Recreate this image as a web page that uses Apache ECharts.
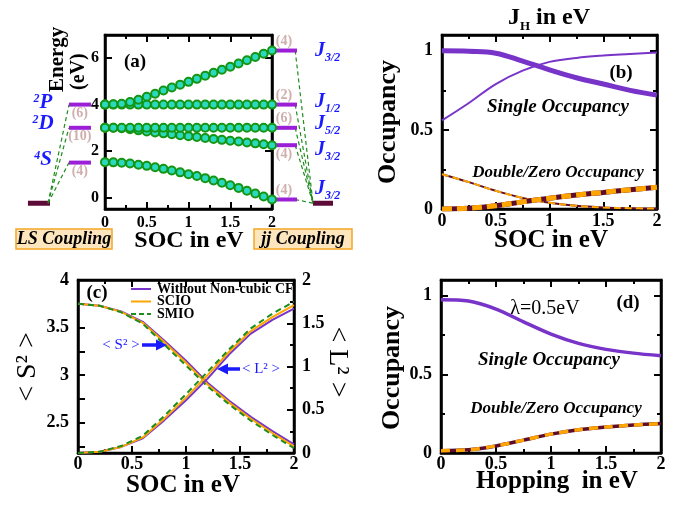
<!DOCTYPE html>
<html><head><meta charset="utf-8">
<script src="https://cdn.jsdelivr.net/npm/echarts@6/dist/echarts.min.js"></script>
<style>html,body{margin:0;padding:0;background:#fff}#c{width:689px;height:509px}</style>
</head><body><div id="c"></div>
<script>
const SERIF = "'Liberation Serif','Times New Roman',serif";

// ---------- Panel (a): energy levels vs SOC ----------
const xA = [0,0.1,0.2,0.3,0.4,0.5,0.6,0.7,0.8,0.9,1.0,1.1,1.2,1.3,1.4,1.5,1.6,1.7,1.8,1.9,2.0];
const aJ32top = [4.00,4.01,4.04,4.11,4.21,4.34,4.47,4.61,4.74,4.86,4.98,5.11,5.24,5.37,5.50,5.63,5.77,5.91,6.05,6.19,6.33];
const aJ12    = [4.00,4.00,4.00,4.00,4.00,4.00,4.00,4.00,4.00,4.00,4.00,4.00,4.00,4.00,4.00,4.00,4.00,4.00,4.00,4.00,4.00];
const aJ52    = [3.00,3.00,3.00,3.00,3.00,3.00,3.00,3.00,3.00,3.00,3.00,3.00,3.00,3.00,3.00,3.00,3.00,3.00,3.00,3.00,3.00];
const aJ32mid = [3.00,3.00,2.98,2.94,2.89,2.84,2.80,2.76,2.72,2.68,2.64,2.60,2.56,2.52,2.48,2.44,2.41,2.37,2.33,2.29,2.25];
const aJ32low = [1.52,1.51,1.49,1.46,1.41,1.36,1.30,1.23,1.16,1.08,1.00,0.92,0.83,0.73,0.63,0.52,0.41,0.29,0.17,0.04,-0.09];
const aYTicks = [0,2,4,6];
const lsLevels = [4.0, 3.0, 1.5];
const lsDeg = ['(6)','(10)','(4)'];
const groundLevel = -0.25;
const jjDeg = ['(4)','(2)','(6)','(4)','(4)'];
const jjDegPos = ['top','top','top','bottom','top'];

// ---------- Panel (b): occupancy vs SOC ----------
const xB = [0,0.25,0.5,0.75,1.0,1.25,1.5,1.75,2.0];
const bSingleThick = [1.00,0.997,0.985,0.935,0.88,0.83,0.79,0.75,0.72];
const bSingleThin  = [0.56,0.67,0.79,0.875,0.93,0.955,0.97,0.98,0.99];
const bDoubleThin  = [0.22,0.17,0.115,0.07,0.04,0.02,0.01,0.005,0.003];
const bDoubleThick = [0.0,0.005,0.02,0.045,0.068,0.088,0.105,0.122,0.137];

// ---------- Panel (c): <S^2>, <L^2> vs SOC ----------
const xC = [0,0.2,0.4,0.6,0.8,1.0,1.2,1.4,1.6,1.8,2.0];
const cS2NoCF = [3.75,3.73,3.67,3.56,3.36,3.15,2.92,2.73,2.56,2.41,2.27];
const cS2SCIO = [3.75,3.73,3.665,3.55,3.345,3.13,2.90,2.71,2.54,2.39,2.25];
const cS2SMIO = [3.75,3.73,3.66,3.54,3.32,3.10,2.88,2.69,2.52,2.37,2.23];
const cL2NoCF = [0,0.015,0.07,0.17,0.38,0.61,0.86,1.14,1.38,1.54,1.67];
const cL2SCIO = [0,0.015,0.07,0.18,0.40,0.64,0.90,1.17,1.41,1.57,1.71];
const cL2SMIO = [0,0.015,0.08,0.20,0.43,0.68,0.94,1.20,1.44,1.61,1.75];
const cNames = ['Without Non-cubic CF','SCIO','SMIO'];
const cS2Ticks = [2.25,2.5,2.75,3,3.25,3.5,3.75,4];
const cS2Labels = [2.5,3,3.5,4];

// ---------- Panel (d): occupancy vs hopping ----------
const xD = [0,0.25,0.5,0.75,1.0,1.25,1.5,1.75,2.0];
const dSingle = [0.975,0.966,0.915,0.834,0.756,0.697,0.659,0.635,0.618];
const dDouble = [0.015,0.02,0.045,0.082,0.12,0.148,0.165,0.178,0.187];

// colours
const PURPLE = '#7834c8', ORANGE = '#ffa500', MAROON = '#5a0d2e', GREEN = '#1e8c1e';
const VIOLET = '#9b1fd6', GROUND = '#5e0b3a', DEGC = '#c39a9a', BLUE = '#1a1aff';

const zip = (xs, ys) => xs.map((x, i) => [x, ys[i]]);
const halfOnly = v => (Math.abs(v * 2 - Math.round(v * 2)) < 1e-6 ? String(+v.toFixed(2)) : '');

function visAxis(gridIndex, o) {
  const ax = {
    type: 'value', gridIndex, min: o.min, max: o.max,
    axisLine: {show: true, onZero: false, lineStyle: {color: '#000', width: 2.5}},
    axisTick: {show: true, inside: true, length: 7, lineStyle: {color: '#000', width: 2}},
    minorTick: {show: !!o.minor, splitNumber: 2, length: 4, lineStyle: {color: '#000', width: 2}},
    axisLabel: {show: !!o.showLabels, fontFamily: SERIF, fontWeight: 'bold', fontSize: o.fs || 18, color: '#000',
      margin: o.margin == null ? 4 : o.margin},
    splitLine: {show: false}, minorSplitLine: {show: false}
  };
  if (o.interval != null) { ax.interval = o.interval; ax.axisLabel.formatter = halfOnly; }
  if (o.ticks) { ax.axisTick.customValues = o.ticks; }
  if (o.labels) { ax.axisLabel.customValues = o.labels; }
  if (o.position) ax.position = o.position;
  return ax;
}

const xAxes = [
  visAxis(0, {min: 0, max: 2, interval: 0.5, minor: true, showLabels: true, fs: 16, margin: 6}),
  {type: 'value', gridIndex: 1, min: 0, max: 1, show: false},
  {type: 'value', gridIndex: 2, min: 0, max: 1, show: false},
  visAxis(3, {min: 0, max: 2, interval: 0.5, minor: true, showLabels: true, margin: 3}),
  visAxis(4, {min: 0, max: 2, interval: 0.5, minor: true, showLabels: true, margin: 2}),
  visAxis(5, {min: 0, max: 2, interval: 0.5, minor: true, showLabels: true, margin: 2}),
  // top tick-only axes
  visAxis(0, {min: 0, max: 2, interval: 0.5, minor: true, position: 'top'}),
  visAxis(3, {min: 0, max: 2, interval: 0.5, minor: true, position: 'top'}),
  visAxis(4, {min: 0, max: 2, interval: 0.5, minor: true, position: 'top'}),
  visAxis(5, {min: 0, max: 2, interval: 0.5, minor: true, position: 'top'})
];
const yAxes = [
  visAxis(0, {min: -0.5, max: 7, ticks: aYTicks, labels: aYTicks, showLabels: true, fs: 16, margin: 6}),
  visAxis(0, {min: -0.5, max: 7, ticks: aYTicks, position: 'right'}),
  {type: 'value', gridIndex: 1, min: -0.5, max: 7, show: false},
  {type: 'value', gridIndex: 2, min: -0.5, max: 7, show: false},
  visAxis(3, {min: 0, max: 1.1, interval: 0.5, minor: true, showLabels: true, margin: 9}),
  visAxis(3, {min: 0, max: 1.1, interval: 0.5, minor: true, position: 'right'}),
  visAxis(4, {min: 2.18, max: 4, ticks: cS2Ticks, labels: cS2Labels, showLabels: true, margin: 9}),
  visAxis(4, {min: 0, max: 2, interval: 0.5, minor: true, showLabels: true, margin: 8, position: 'right'}),
  visAxis(5, {min: 0, max: 1.1, interval: 0.5, minor: true, showLabels: true, margin: 9}),
  visAxis(5, {min: 0, max: 1.1, interval: 0.5, minor: true, position: 'right'})
];

const boxGrid = (l, t, w, h) => ({left: l, top: t, width: w, height: h, show: true, borderColor: '#000', borderWidth: 2.5,
  backgroundColor: 'transparent', containLabel: false, outerBoundsMode: 'none'});
const grids = [
  boxGrid(105, 35, 167, 174),
  {left: 15, top: 35, width: 90, height: 174, show: false, outerBoundsMode: 'none'},
  {left: 272, top: 35, width: 80, height: 174, show: false, outerBoundsMode: 'none'},
  boxGrid(442, 35, 215, 174),
  boxGrid(78, 280, 216, 173),
  boxGrid(441, 280, 220, 173)
];

const series = [];
function line(xi, yi, data, color, width, extra) {
  series.push(Object.assign({type: 'line', xAxisIndex: xi, yAxisIndex: yi, data, showSymbol: false, symbol: 'none',
    lineStyle: {color, width}, itemStyle: {color}, silent: true, z: 3}, extra || {}));
}

// panel (a) curves with circle markers
[aJ32low, aJ32mid, aJ52, aJ12, aJ32top].forEach(arr => {
  line(0, 0, zip(xA, arr), '#149614', 1.5, {
    showSymbol: true, showAllSymbol: true, symbol: 'circle', symbolSize: 8,
    itemStyle: {color: '#2bd9c0', borderColor: '#149614', borderWidth: 2}
  });
});

// LS coupling side (grid 1)
line(1, 2, [[0.144, groundLevel], [0.389, groundLevel]], GROUND, 5);
lsLevels.forEach(L => {
  line(1, 2, [[0.367, groundLevel], [0.6, L]], GREEN, 1.2, {lineStyle: {color: GREEN, width: 1.2, type: [4, 3]}});
  line(1, 2, [[0.6, L], [0.844, L]], VIOLET, 4);
});
series.push({type: 'scatter', xAxisIndex: 1, yAxisIndex: 2, symbolSize: 0, silent: true,
  data: lsLevels.map((L, i) => ({value: [0.72, L], name: lsDeg[i]})),
  label: {show: true, position: 'bottom', distance: 2, formatter: p => p.name, fontFamily: SERIF, fontWeight: 'bold', fontSize: 14, color: DEGC}});

// jj coupling side (grid 2)
const jjLevels = [aJ32top[aJ32top.length-1], aJ12[aJ12.length-1], aJ52[aJ52.length-1], aJ32mid[aJ32mid.length-1], aJ32low[aJ32low.length-1]];
line(2, 3, [[0.5125, groundLevel], [0.7625, groundLevel]], GROUND, 5);
jjLevels.forEach(L => {
  line(2, 3, [[0.29, L], [0.5125, groundLevel]], GREEN, 1.2, {lineStyle: {color: GREEN, width: 1.2, type: [4, 3]}});
  line(2, 3, [[0.0375, L], [0.3125, L]], VIOLET, 4);
});
series.push({type: 'scatter', xAxisIndex: 2, yAxisIndex: 3, symbolSize: 0, silent: true,
  data: jjLevels.map((L, i) => ({value: [0.15, L], name: jjDeg[i], label: {position: jjDegPos[i]}})),
  label: {show: true, distance: 2, formatter: p => p.name, fontFamily: SERIF, fontWeight: 'bold', fontSize: 14, color: DEGC}});

// panel (b)
line(3, 4, zip(xB, bSingleThick), PURPLE, 5, {smooth: 0.4});
line(3, 4, zip(xB, bSingleThin), PURPLE, 2, {smooth: 0.4});
line(3, 4, zip(xB, bDoubleThin), MAROON, 2, {smooth: 0.4});
line(3, 4, zip(xB, bDoubleThin), ORANGE, 2, {smooth: 0.4, lineStyle: {color: ORANGE, width: 2, type: [7, 4]}});
line(3, 4, zip(xB, bDoubleThick), MAROON, 5, {smooth: 0.4});
line(3, 4, zip(xB, bDoubleThick), ORANGE, 5, {smooth: 0.4, lineStyle: {color: ORANGE, width: 5, type: [10, 5]}});

// panel (c)
const cStyles = [
  {color: PURPLE, width: 2, type: 'solid'},
  {color: ORANGE, width: 2, type: 'solid'},
  {color: GREEN, width: 2, type: [6, 4]}
];
[cS2NoCF, cS2SCIO, cS2SMIO].forEach((arr, i) => {
  line(4, 6, zip(xC, arr), cStyles[i].color, 2, {name: cNames[i], lineStyle: cStyles[i]});
});
[cL2NoCF, cL2SCIO, cL2SMIO].forEach((arr, i) => {
  line(4, 7, zip(xC, arr), cStyles[i].color, 2, {name: cNames[i], lineStyle: cStyles[i]});
});

// panel (d)
line(5, 8, zip(xD, dSingle), PURPLE, 3.5, {smooth: 0.3});
line(5, 8, zip(xD, dDouble), MAROON, 3.5, {smooth: 0.3});
line(5, 8, zip(xD, dDouble), ORANGE, 3.5, {smooth: 0.3, lineStyle: {color: ORANGE, width: 3.5, type: [9, 6]}});

// ---------- text / annotations ----------
const T = (text, x, y, o) => ({type: 'text', z: 10, silent: true, x, y, rotation: (o && o.rot) || 0,
  style: Object.assign({text, fontFamily: SERIF, fontWeight: 'bold', fontSize: 24, fill: '#000',
    align: 'center', verticalAlign: 'middle'}, o && o.style || {})});
const richBase = {fontFamily: SERIF, fontWeight: 'bold'};
const graphic = [];
// axis titles
graphic.push(T('SOC in eV', 189, 241, {style: {fontSize: 24}}));
graphic.push(T('SOC in eV', 551, 241, {style: {fontSize: 25}}));
graphic.push(T('SOC in eV', 183, 486, {style: {fontSize: 25}}));
graphic.push(T('Hopping  in eV', 557, 482, {style: {fontSize: 25}}));
graphic.push(T('Occupancy', 388, 122, {rot: Math.PI/2, style: {fontSize: 26}}));
graphic.push(T('Occupancy', 392, 368, {rot: Math.PI/2, style: {fontSize: 26}}));
graphic.push(T('< S² >', 28, 367, {rot: Math.PI/2, style: {fontSize: 28, fontWeight: 'normal'}}));
graphic.push(T('< L² >', 337, 362, {rot: -Math.PI/2, style: {fontSize: 28, fontWeight: 'normal'}}));
graphic.push(T('Energy', 58, 92, {rot: Math.PI/2, style: {fontSize: 21, align: 'left'}}));
graphic.push(T('(eV)', 79, 90, {rot: Math.PI/2, style: {fontSize: 20, align: 'left'}}));
// J_H title
graphic.push({type: 'text', z: 10, x: 549, y: 6, style: {text: '{t|J}{s|H}{t| in eV}', align: 'center', verticalAlign: 'top',
  rich: {t: Object.assign({fontSize: 24, lineHeight: 24, verticalAlign: 'top'}, richBase),
         s: Object.assign({fontSize: 13, lineHeight: 13, padding: [14, 0, 0, 0], verticalAlign: 'top'}, richBase)}}});
// panel labels
graphic.push(T('(a)', 135, 62, {style: {fontSize: 19}}));
graphic.push(T('(b)', 621, 73, {style: {fontSize: 19}}));
graphic.push(T('(c)', 97, 293, {style: {fontSize: 19}}));
graphic.push(T('(d)', 628, 303, {style: {fontSize: 19}}));
graphic.push(T('λ=0.5eV', 545, 309, {style: {fontSize: 20, fontWeight: 'normal'}}));
graphic.push(T('Single Occupancy', 558, 107, {style: {fontStyle: 'italic', fontSize: 19}}));
graphic.push(T('Double/Zero Occupancy', 558, 173, {style: {fontStyle: 'italic', fontSize: 17}}));
graphic.push(T('Single Occupancy', 549, 360, {style: {fontStyle: 'italic', fontSize: 19}}));
graphic.push(T('Double/Zero Occupancy', 556, 409, {style: {fontStyle: 'italic', fontSize: 17}}));
// <S2>, <L2> annotations with arrows
graphic.push(T('< S² >', 121, 345, {style: {fontSize: 15, fontWeight: 'normal', fill: BLUE}}));
graphic.push({type: 'line', z: 10, shape: {x1: 142, y1: 345, x2: 158, y2: 345}, style: {stroke: BLUE, lineWidth: 3.5}});
graphic.push({type: 'polygon', z: 10, shape: {points: [[156, 339.5], [167, 345], [156, 350.5]]}, style: {fill: BLUE}});
graphic.push(T('< L² >', 261, 369, {style: {fontSize: 15, fontWeight: 'normal', fill: BLUE}}));
graphic.push({type: 'line', z: 10, shape: {x1: 240, y1: 369, x2: 226, y2: 369}, style: {stroke: BLUE, lineWidth: 3.5}});
graphic.push({type: 'polygon', z: 10, shape: {points: [[228, 363.5], [217, 369], [228, 374.5]]}, style: {fill: BLUE}});
// legend of panel (c)
cNames.forEach((n, i) => {
  const y = 289 + i * 12.5;
  const st = cStyles[i];
  graphic.push({type: 'line', z: 10, shape: {x1: 131, y1: y, x2: 151, y2: y},
    style: {stroke: st.color, lineWidth: 2, lineDash: Array.isArray(st.type) ? [5, 3] : null}});
  graphic.push(T(n, 157, y, {style: {fontSize: 14, align: 'left'}}));
});
// term symbols (LS)
const termRich = {
  s: Object.assign({fontSize: 12, lineHeight: 12, verticalAlign: 'top', fontStyle: 'italic', fill: BLUE}, richBase),
  t: Object.assign({fontSize: 21, lineHeight: 21, verticalAlign: 'top', fontStyle: 'italic', fill: BLUE}, richBase)
};
[['2','P',103],['2','D',124],['4','S',160]].forEach(([s, t, y]) => {
  graphic.push({type: 'text', z: 10, x: 43, y, style: {text: `{s|${s}}{t|${t}}`, align: 'center', verticalAlign: 'middle', rich: termRich}});
});
// J labels (jj)
const jRich = {
  j: Object.assign({fontSize: 20, lineHeight: 20, verticalAlign: 'top', fontStyle: 'italic', fill: BLUE}, richBase),
  s: Object.assign({fontSize: 12, lineHeight: 12, padding: [11, 0, 0, 0], verticalAlign: 'top', fontStyle: 'italic', fill: BLUE}, richBase)
};
[['3/2',41],['1/2',92],['5/2',114],['3/2',140],['3/2',179]].forEach(([s, y]) => {
  graphic.push({type: 'text', z: 10, x: 315, y, style: {text: `{j|J}{s|${s}}`, align: 'left', verticalAlign: 'top', rich: jRich}});
});
// coupling boxes
[['LS Coupling', 16, 96], ['jj Coupling', 254, 98]].forEach(([t, x, w]) => {
  graphic.push({type: 'rect', z: 9, shape: {x, y: 229, width: w, height: 20}, style: {fill: '#fde6bd', stroke: '#f5a623', lineWidth: 1.5}});
  graphic.push(T(t, x + w / 2, 239.5, {style: {fontSize: 18, fontStyle: 'italic'}}));
});

const chart = echarts.init(document.getElementById('c'), null, {renderer: 'canvas'});
chart.setOption({
  animation: false,
  backgroundColor: '#fff',
  grid: grids,
  xAxis: xAxes,
  yAxis: yAxes,
  series,
  graphic
});
</script>
</body></html>
